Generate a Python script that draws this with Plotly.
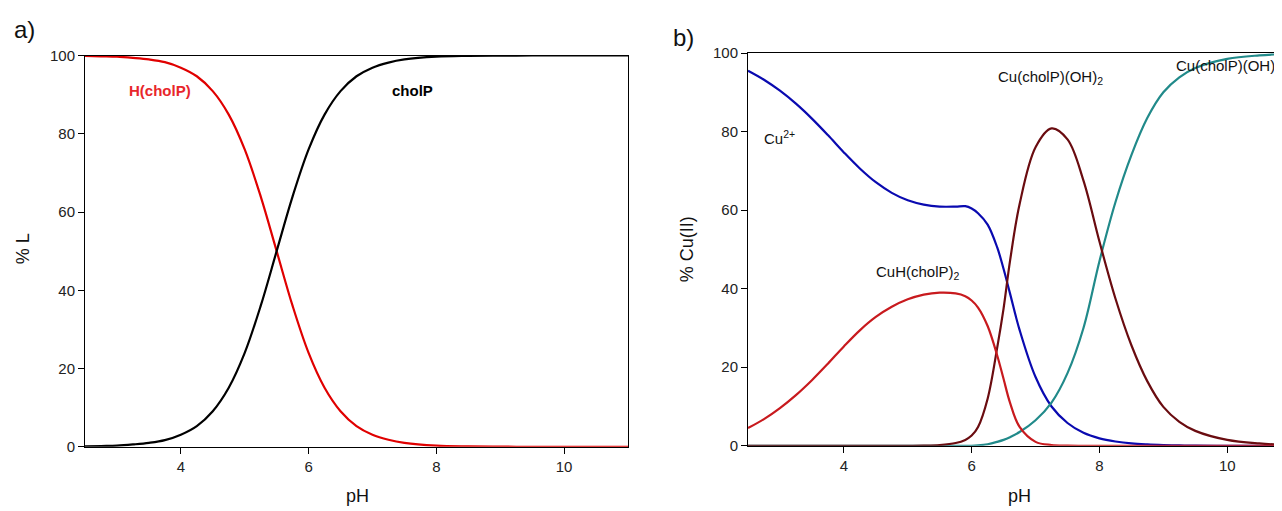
import plotly.graph_objects as go

# ---------------- data ----------------
ph_a = [2.5, 2.75, 3.0, 3.25, 3.5, 3.75, 4.0, 4.25, 4.5, 4.75, 5.0, 5.25, 5.5, 5.75,
        6.0, 6.25, 6.5, 6.75, 7.0, 7.25, 7.5, 8.0, 8.5, 9.0, 9.5, 10.0, 10.5, 11.0]
h_cholp = [99.9, 99.8, 99.7, 99.4, 99.0, 98.3, 96.9, 94.7, 90.9, 84.9, 76.0, 64.0, 50.0, 36.0,
           24.0, 15.1, 9.1, 5.3, 3.1, 1.8, 1.0, 0.3, 0.1, 0.03, 0.0, 0.0, 0.0, 0.0]
cholp = [0.1, 0.2, 0.3, 0.6, 1.0, 1.7, 3.1, 5.3, 9.1, 15.1, 24.0, 36.0, 50.0, 64.0,
         76.0, 84.9, 90.9, 94.7, 96.9, 98.2, 99.0, 99.7, 99.9, 99.97, 100.0, 100.0, 100.0, 100.0]

ph_b = [2.5, 2.75, 3.0, 3.25, 3.5, 3.75, 4.0, 4.25, 4.5, 4.75, 5.0, 5.25, 5.5, 5.75, 5.9,
        6.0, 6.1, 6.25, 6.4, 6.5, 6.6, 6.75, 7.0, 7.25, 7.5, 7.75, 8.0, 8.25, 8.5, 8.75,
        9.0, 9.25, 9.5, 10.0, 10.5, 11.0]
cu2 = [95.5, 93.2, 90.4, 87.1, 83.3, 79.1, 74.7, 70.6, 67.1, 64.4, 62.5, 61.4, 60.9, 60.9, 61.0,
       60.4, 59.2, 56.3, 50.5, 45.0, 38.8, 29.5, 17.5, 10.0, 5.8, 3.3, 1.9, 1.1, 0.6, 0.35,
       0.2, 0.1, 0.05, 0.0, 0.0, 0.0]
cuh_cholp2 = [4.5, 6.8, 9.6, 12.9, 16.7, 20.9, 25.3, 29.4, 32.8, 35.4, 37.3, 38.5, 39.0, 38.8, 38.1,
              37.0, 35.2, 30.5, 23.0, 17.0, 11.0, 4.8, 1.0, 0.2, 0.05, 0.0, 0.0, 0.0, 0.0, 0.0,
              0.0, 0.0, 0.0, 0.0, 0.0, 0.0]
cu_cholp_oh2 = [0.0, 0.0, 0.0, 0.0, 0.0, 0.0, 0.0, 0.0, 0.0, 0.0, 0.0, 0.05, 0.2, 0.7, 1.5,
                2.6, 4.8, 12.0, 25.0, 35.0, 47.0, 61.5, 76.0, 80.8, 78.0, 67.5, 52.0, 37.5, 25.6, 16.4,
                9.9, 6.1, 3.8, 1.5, 0.6, 0.2]
cu_cholp_oh = [0.0, 0.0, 0.0, 0.0, 0.0, 0.0, 0.0, 0.0, 0.0, 0.0, 0.0, 0.0, 0.0, 0.0, 0.0,
               0.0, 0.1, 0.4, 1.0, 1.5, 2.2, 3.5, 6.5, 11.0, 18.5, 30.0, 47.0, 62.0, 74.0, 83.5,
               90.0, 93.8, 96.2, 98.5, 99.4, 99.8]

y_ticks = [0, 20, 40, 60, 80, 100]
x_ticks = [4, 6, 8, 10]

# ---------------- figure ----------------
W, H = 1282, 511
FONT = "Arial, Liberation Sans, sans-serif"

# mapping from target pixel positions to paper coordinates (page offset compensation)
OX, OY, HY = 8.0, 18.6, 492.4
def px_x(rx):
    return (rx - OX) / W
def px_y(ry):
    return 1 - (ry - OY) / HY

fig = go.Figure()
lw = 2.2
fig.add_trace(go.Scatter(x=ph_a, y=h_cholp, mode="lines", line=dict(color="#e00000", width=lw, shape="spline"),
                         xaxis="x", yaxis="y", showlegend=False))
fig.add_trace(go.Scatter(x=ph_a, y=cholp, mode="lines", line=dict(color="#000000", width=lw, shape="spline"),
                         xaxis="x", yaxis="y", showlegend=False))

fig.add_trace(go.Scatter(x=ph_b, y=cu2, mode="lines", line=dict(color="#0a0ab0", width=lw, shape="spline"),
                         xaxis="x2", yaxis="y2", showlegend=False))
fig.add_trace(go.Scatter(x=ph_b, y=cu_cholp_oh, mode="lines", line=dict(color="#218a8a", width=lw, shape="spline"),
                         xaxis="x2", yaxis="y2", showlegend=False))
fig.add_trace(go.Scatter(x=ph_b, y=cu_cholp_oh2, mode="lines", line=dict(color="#6a0c10", width=lw, shape="spline"),
                         xaxis="x2", yaxis="y2", showlegend=False))
fig.add_trace(go.Scatter(x=ph_b, y=cuh_cholp2, mode="lines", line=dict(color="#c81a1e", width=lw, shape="spline"),
                         xaxis="x2", yaxis="y2", showlegend=False))

axis_common = dict(showgrid=False, zeroline=False, showline=True, linecolor="black", linewidth=1,
                   ticks="outside", ticklen=6, tickcolor="black", tickwidth=1,
                   tickfont=dict(family=FONT, size=15, color="#222"))

xb_right_ph = 2.5 + (W + OX - 748) / 63.9

fig.update_layout(
    width=W, height=H, margin=dict(l=0, r=0, t=0, b=0),
    plot_bgcolor="white", paper_bgcolor="white",
    xaxis=dict(domain=[px_x(85), px_x(628)], range=[2.5, 11], tickvals=x_ticks, mirror=True,
               anchor="y", **axis_common),
    yaxis=dict(domain=[px_y(447), px_y(57)], range=[0, 100], tickvals=y_ticks, mirror=True,
               anchor="x", **axis_common),
    xaxis2=dict(domain=[px_x(748), 1.0], range=[2.5, xb_right_ph], tickvals=x_ticks, mirror=True,
                anchor="y2", **axis_common),
    yaxis2=dict(domain=[px_y(446), px_y(54.5)], range=[0, 100], tickvals=y_ticks, mirror=False,
                anchor="x2", **axis_common),
)

ann = []
def paper_text(text, rx, ry, size, angle=0):
    ann.append(dict(text=text, x=px_x(rx), y=px_y(ry), xref="paper", yref="paper",
                    showarrow=False, xanchor="center", yanchor="middle", textangle=angle,
                    font=dict(family=FONT, size=size, color="#111")))

paper_text("a)", 24, 31, 24)
paper_text("b)", 683, 39, 24)
paper_text("pH", 357, 496, 18)
paper_text("pH", 1019, 496, 18)
paper_text("% L", 23, 250, 18, -90)
paper_text("% Cu(II)", 687, 250, 18, -90)

def data_text(text, x, y, xr, yr, color="#111", bold=False, anchor="center"):
    t = f"<b>{text}</b>" if bold else text
    ann.append(dict(text=t, x=x, y=y, xref=xr, yref=yr, showarrow=False,
                    xanchor=anchor, yanchor="middle",
                    font=dict(family=FONT, size=15, color=color)))

data_text("H(cholP)", 3.67, 91.0, "x", "y", color="#e8262b", bold=True)
data_text("cholP", 7.62, 91.0, "x", "y", color="#000", bold=True)
data_text("Cu<sup>2+</sup>", 3.0, 78.4, "x2", "y2")
data_text("CuH(cholP)<sub>2</sub>", 5.16, 44.0, "x2", "y2")
data_text("Cu(cholP)(OH)<sub>2</sub>", 7.23, 93.8, "x2", "y2")
data_text("Cu(cholP)(OH)", 9.17, 96.8, "x2", "y2", anchor="left")

fig.update_layout(annotations=ann)
fig.write_html("out.html")
